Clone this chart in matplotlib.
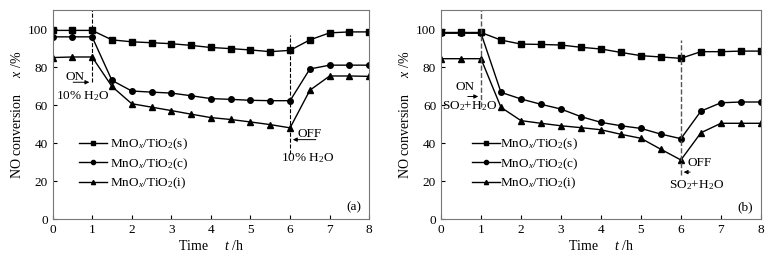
import numpy as np
import matplotlib
matplotlib.use("Agg")
import matplotlib.pyplot as plt

plt.rcParams['font.family'] = ['Liberation Serif', 'DejaVu Serif']
plt.rcParams['mathtext.fontset'] = 'custom'
plt.rcParams['mathtext.rm'] = 'Liberation Serif'
plt.rcParams['mathtext.it'] = 'Liberation Serif:italic'

# time points (h)
t = [0, 0.5, 1, 1.5, 2, 2.5, 3, 3.5, 4, 4.5, 5, 5.5, 6, 6.5, 7, 7.5, 8]

# panel (a): 10% H2O
a_s = [99.3, 99.3, 99.3, 94.3, 93.3, 92.8, 92.3, 91.4, 90.3, 89.7, 89.0, 88.1, 88.8, 94.3, 98.0, 98.5, 98.5]
a_c = [95.9, 95.9, 95.9, 73.0, 67.4, 66.8, 66.3, 64.9, 63.4, 63.0, 62.5, 62.3, 62.3, 79.0, 81.0, 81.0, 81.0]
a_i = [85.0, 85.3, 85.3, 69.8, 60.7, 58.9, 57.1, 55.2, 53.4, 52.4, 51.1, 49.7, 48.0, 67.8, 75.3, 75.3, 75.1]

# panel (b): SO2 + H2O
b_s = [98.2, 98.2, 98.2, 94.2, 92.1, 91.9, 91.6, 90.4, 89.5, 87.7, 86.0, 85.3, 84.6, 88.1, 88.1, 88.4, 88.4]
b_c = [97.8, 97.8, 97.8, 66.7, 63.2, 60.4, 57.9, 53.9, 50.9, 49.1, 47.7, 44.7, 42.3, 56.8, 61.2, 61.6, 61.6]
b_i = [84.4, 84.4, 84.4, 58.8, 51.8, 50.4, 49.1, 48.1, 47.0, 44.6, 42.5, 36.7, 31.1, 45.4, 50.4, 50.4, 50.4]

labels = [r'MnO$_x$/TiO$_2$(s)', r'MnO$_x$/TiO$_2$(c)', r'MnO$_x$/TiO$_2$(i)']
markers = ['s', 'o', '^']

fig = plt.figure(figsize=(7.84, 2.58), dpi=100)
ax1 = fig.add_axes([0.067, 0.151, 0.404, 0.810])
ax2 = fig.add_axes([0.5625, 0.151, 0.408, 0.810])


def setup(ax, series, tag, leg_x, pad):
    for y, m, lab in zip(series, markers, labels):
        ax.plot(t, y, color='black', lw=1.0, marker=m, ms=4, label=lab)
    ax.set_xlim(0, 8)
    ax.set_ylim(0, 110)
    ax.set_xticks(range(9))
    ax.set_yticks(range(0, 101, 20))
    ax.tick_params(direction='in', labelsize=9.5, length=3, width=0.8)
    for sp in ax.spines.values():
        sp.set_color('#777777')
        sp.set_linewidth(0.8)
    ax.set_xlabel(r'Time     $\mathit{t}$ /h', fontsize=10, labelpad=2)
    ax.set_ylabel(r'NO conversion     $\mathit{x}$ /%', fontsize=10, labelpad=3)
    ax.text(7.6, 6, tag, fontsize=9.5, ha='center', va='center')
    ax.legend(loc='center left', bbox_to_anchor=(leg_x, 0.263), frameon=False,
              fontsize=9.5, handlelength=2.1, handletextpad=pad,
              labelspacing=0.3, borderpad=0, borderaxespad=0, markerscale=0.75)


setup(ax1, [a_s, a_c, a_i], '(a)', 0.085, 0.25)
setup(ax2, [b_s, b_c, b_i], '(b)', 0.097, 0.05)

arrow = dict(arrowstyle='-|>', color='black', lw=0.7, mutation_scale=6)

# panel (a) annotations
ax1.plot([1, 1], [72, 110], ls='--', color='black', lw=0.8)
ax1.plot([6, 6], [34, 97], ls='--', color='black', lw=0.8)
ax1.annotate('', xy=(1, 72), xytext=(0.45, 72), arrowprops=arrow)
ax1.text(0.58, 75, 'ON', fontsize=9.5, ha='center', va='center')
ax1.text(0.76, 64.5, r'10% H$_2$O', fontsize=9.5, ha='center', va='center')
ax1.annotate('', xy=(6, 41.8), xytext=(6.72, 41.8), arrowprops=arrow)
ax1.text(6.49, 45, 'OFF', fontsize=9.5, ha='center', va='center')
ax1.text(6.44, 32, r'10% H$_2$O', fontsize=9.5, ha='center', va='center')

# panel (b) annotations
ax2.plot([1, 1], [59, 110], ls='--', color='#555555', lw=1.0)
ax2.plot([6, 6], [23, 94], ls='--', color='#555555', lw=1.0)
ax2.annotate('', xy=(1, 64.5), xytext=(0.6, 64.5), arrowprops=arrow)
ax2.text(0.6, 69.5, 'ON', fontsize=9.5, ha='center', va='center')
ax2.text(0.72, 59.5, r'SO$_2$+H$_2$O', fontsize=9.5, ha='center', va='center')
ax2.annotate('', xy=(6, 24.7), xytext=(6.3, 24.7), arrowprops=arrow)
ax2.text(6.48, 29.5, 'OFF', fontsize=9.5, ha='center', va='center')
ax2.text(6.4, 18, r'SO$_2$+H$_2$O', fontsize=9.5, ha='center', va='center')

fig.savefig('out.png', dpi=100)
